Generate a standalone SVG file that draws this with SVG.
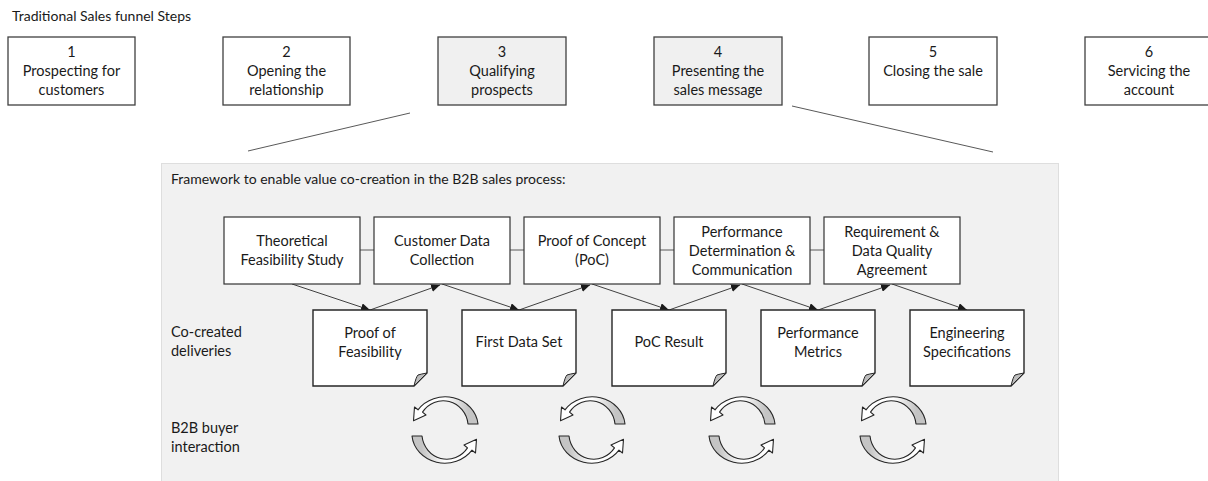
<svg xmlns="http://www.w3.org/2000/svg" width="1208" height="481" viewBox="0 0 1208 481">
<style>
text{font-family:Lato,"Open Sans","Liberation Sans",sans-serif;fill:#1a1a1a;}
.t{font-size:14.5px;text-anchor:middle;}
.lbl{font-size:14.5px;}
.top{fill:#fff;stroke:#404040;stroke-width:1.3;}
.topg{fill:#f0f0f0;stroke:#404040;stroke-width:1.3;}
.proc{fill:#fff;stroke:#333;stroke-width:1.2;}
.doc{fill:#fff;stroke:#262626;stroke-width:1.4;}
.fold{fill:#bdbdbd;stroke:#262626;stroke-width:1;}
.link{stroke:#595959;stroke-width:1;fill:none;}
.arr{stroke:#404040;stroke-width:1;fill:none;marker-end:url(#ah);}
.cyc{fill:url(#g);stroke:#262626;stroke-width:1.1;stroke-linejoin:round;}
</style>
<defs>
<marker id="ah" markerWidth="10" markerHeight="8" refX="9" refY="4" orient="auto" markerUnits="userSpaceOnUse">
<path d="M0,0 L9,4 L0,8 Z" fill="#1a1a1a"/>
</marker>
<linearGradient id="g" x1="0" y1="0" x2="1" y2="0">
<stop offset="0.5" stop-color="#ffffff"/>
<stop offset="0.85" stop-color="#c4c4c4"/>
</linearGradient>
<path id="half" class="cyc" d="M33,-6 A33 30 0 0 0 -27,-20.2 L-30.5,-23 L-31.5,-9.2 L-19,-15 L-22.5,-17.9 A25 26 0 0 1 23,-6 Z"/>
<g id="cycle"><use href="#half"/><use href="#half" transform="rotate(180)"/></g>
</defs>
<rect width="1208" height="481" fill="#fff"/>
<text x="12" y="21" style="font-size:14px">Traditional Sales funnel Steps</text>

<g id="step1"><rect class="top" x="8" y="37" width="127" height="68"/><text class="t" x="71.5" y="57">1</text><text class="t" x="71.5" y="76">Prospecting for</text><text class="t" x="71.5" y="95">customers</text></g>
<g id="step2"><rect class="top" x="223" y="37" width="127" height="68"/><text class="t" x="286.5" y="57">2</text><text class="t" x="286.5" y="76">Opening the</text><text class="t" x="286.5" y="95">relationship</text></g>
<g id="step3"><rect class="topg" x="438" y="37" width="128" height="68"/><text class="t" x="502" y="57">3</text><text class="t" x="502" y="76">Qualifying</text><text class="t" x="502" y="95">prospects</text></g>
<g id="step4"><rect class="topg" x="654" y="37" width="128" height="68"/><text class="t" x="718" y="57">4</text><text class="t" x="718" y="76">Presenting the</text><text class="t" x="718" y="95">sales message</text></g>
<g id="step5"><rect class="top" x="869" y="37" width="128" height="68"/><text class="t" x="933" y="57">5</text><text class="t" x="933" y="76">Closing the sale</text></g>
<g id="step6"><rect class="top" x="1085" y="37" width="128" height="68"/><text class="t" x="1149" y="57">6</text><text class="t" x="1149" y="76">Servicing the</text><text class="t" x="1149" y="95">account</text></g>

<g id="zoom-lines">
<line class="link" x1="410" y1="113" x2="248" y2="151"/>
<line class="link" x1="792" y1="106" x2="993" y2="152"/>
</g>

<g id="panel">
<rect x="161.5" y="163.5" width="897" height="320" fill="#f1f1f1" stroke="#dedede" stroke-width="1"/>
<text x="171" y="184" style="font-size:14px">Framework to enable value co-creation in the B2B sales process:</text>
<text class="lbl" x="171" y="337">Co-created</text>
<text class="lbl" x="171" y="356">deliveries</text>
<text class="lbl" x="171" y="433">B2B buyer</text>
<text class="lbl" x="171" y="452">interaction</text>
</g>

<g id="connectors">
<line class="link" x1="360" y1="250" x2="374" y2="250"/>
<line class="link" x1="510" y1="250" x2="524" y2="250"/>
<line class="link" x1="660" y1="250" x2="674" y2="250"/>
<line class="link" x1="810" y1="250" x2="824" y2="250"/>
<line class="arr" x1="292" y1="284" x2="370" y2="310"/>
<line class="arr" x1="370" y1="310" x2="440" y2="285"/>
<line class="arr" x1="442" y1="284" x2="519" y2="310"/>
<line class="arr" x1="519" y1="310" x2="590" y2="285"/>
<line class="arr" x1="592" y1="284" x2="669" y2="310"/>
<line class="arr" x1="669" y1="310" x2="740" y2="285"/>
<line class="arr" x1="742" y1="284" x2="818" y2="310"/>
<line class="arr" x1="818" y1="310" x2="890" y2="285"/>
<line class="arr" x1="892" y1="284" x2="967" y2="310"/>
</g>

<g id="proc1"><rect class="proc" x="224" y="217" width="136" height="67"/><text class="t" x="292" y="246">Theoretical</text><text class="t" x="292" y="265">Feasibility Study</text></g>
<g id="proc2"><rect class="proc" x="374" y="217" width="136" height="67"/><text class="t" x="442" y="246">Customer Data</text><text class="t" x="442" y="265">Collection</text></g>
<g id="proc3"><rect class="proc" x="524" y="217" width="136" height="67"/><text class="t" x="592" y="246">Proof of Concept</text><text class="t" x="592" y="265">(PoC)</text></g>
<g id="proc4"><rect class="proc" x="674" y="217" width="136" height="67"/><text class="t" x="742" y="237">Performance</text><text class="t" x="742" y="256">Determination &amp;</text><text class="t" x="742" y="275">Communication</text></g>
<g id="proc5"><rect class="proc" x="824" y="217" width="136" height="67"/><text class="t" x="892" y="237">Requirement &amp;</text><text class="t" x="892" y="256">Data Quality</text><text class="t" x="892" y="275">Agreement</text></g>

<g id="doc1"><path class="doc" d="M313,310 H427 V373 L414,386 H313 Z"/><path class="fold" d="M414,386 Q416,377 418,375 Q421,374 427,373 Z"/><text class="t" x="370" y="338">Proof of</text><text class="t" x="370" y="357">Feasibility</text></g>
<g id="doc2"><path class="doc" d="M462,310 H576 V373 L563,386 H462 Z"/><path class="fold" d="M563,386 Q565,377 567,375 Q570,374 576,373 Z"/><text class="t" x="519" y="347">First Data Set</text></g>
<g id="doc3"><path class="doc" d="M612,310 H726 V373 L713,386 H612 Z"/><path class="fold" d="M713,386 Q715,377 717,375 Q720,374 726,373 Z"/><text class="t" x="669" y="347">PoC Result</text></g>
<g id="doc4"><path class="doc" d="M761,310 H875 V373 L862,386 H761 Z"/><path class="fold" d="M862,386 Q864,377 866,375 Q869,374 875,373 Z"/><text class="t" x="818" y="338">Performance</text><text class="t" x="818" y="357">Metrics</text></g>
<g id="doc5"><path class="doc" d="M910,310 H1024 V373 L1011,386 H910 Z"/><path class="fold" d="M1011,386 Q1013,377 1015,375 Q1018,374 1024,373 Z"/><text class="t" x="967" y="338">Engineering</text><text class="t" x="967" y="357">Specifications</text></g>

<g id="cycle1" transform="translate(445,430)"><use href="#cycle"/></g>
<g id="cycle2" transform="translate(592,430)"><use href="#cycle"/></g>
<g id="cycle3" transform="translate(742,430)"><use href="#cycle"/></g>
<g id="cycle4" transform="translate(893,430)"><use href="#cycle"/></g>
</svg>
